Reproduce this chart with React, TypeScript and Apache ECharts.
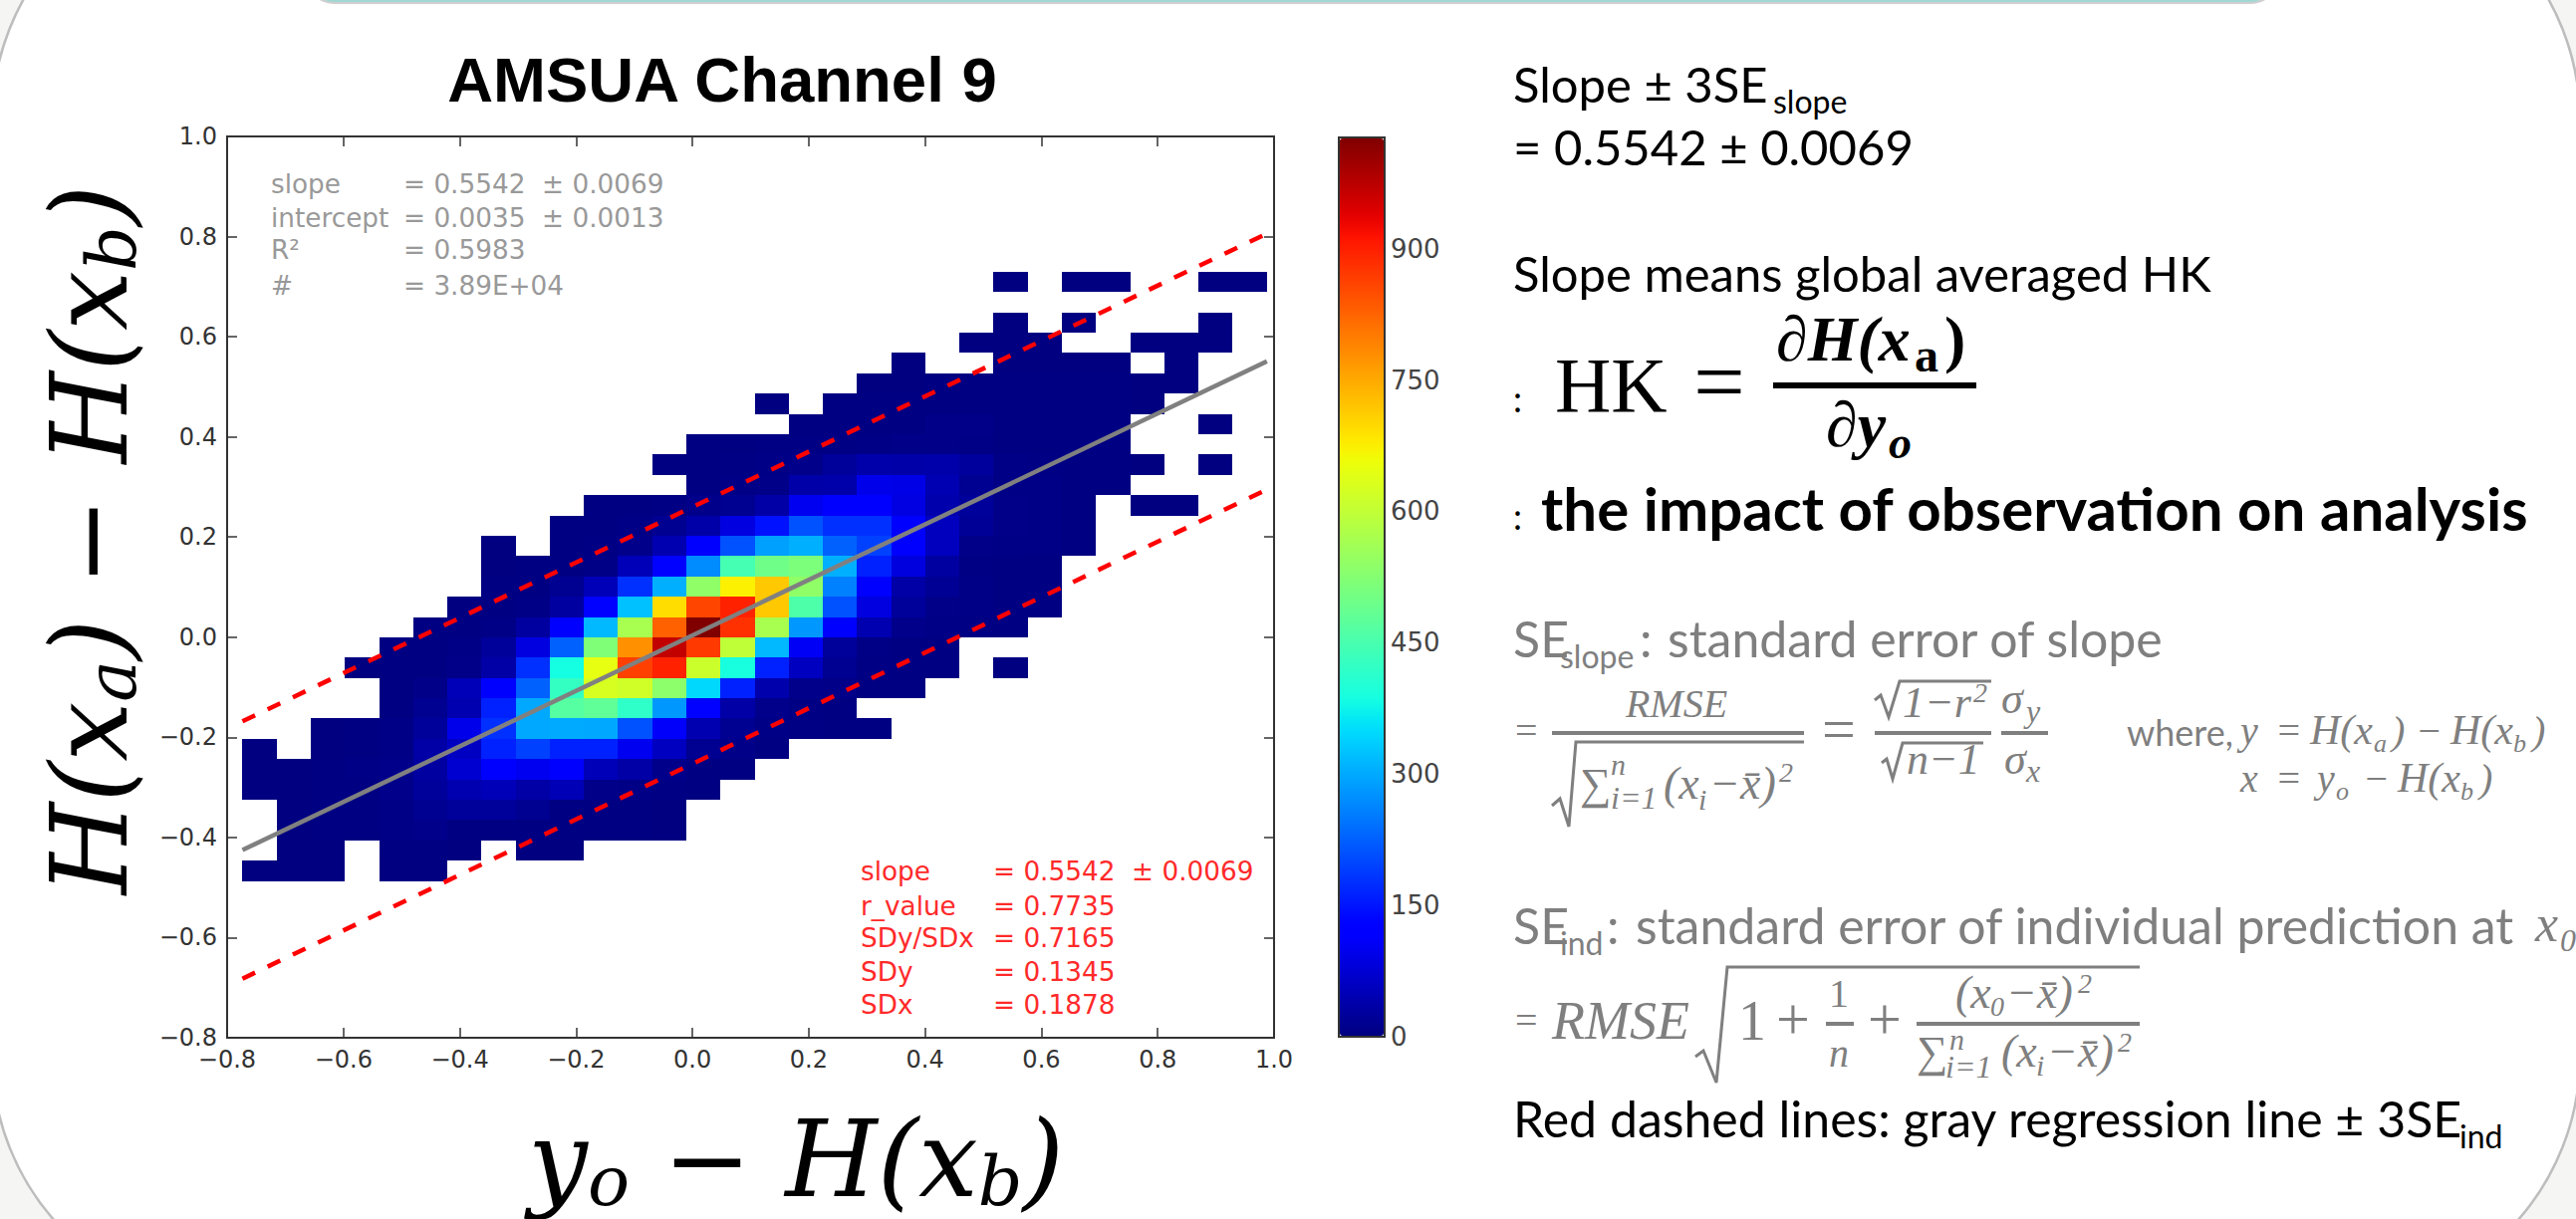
import React, { useEffect, useRef } from "react";
import * as echarts from "echarts";

// ---------- data ----------
const xBinStart = -0.7736;
const xBinSize = 0.0587;
const yBinTop = 0.73;
const yBinSize = 0.04057;
const colorMax = 1027;

// counts per bin, rows from the top of the plot to the bottom, 30 columns left to right, 0 = empty
const r00 = [0,0,0,0,0,0,0,0,0,0, 0,0,0,0,0,0,0,0,0,0, 0,0,1,0,1,1,0,0,1,1];
const r01 = [0,0,0,0,0,0,0,0,0,0, 0,0,0,0,0,0,0,0,0,0, 0,0,0,0,0,0,0,0,0,0];
const r02 = [0,0,0,0,0,0,0,0,0,0, 0,0,0,0,0,0,0,0,0,0, 0,0,1,0,1,0,0,0,1,0];
const r03 = [0,0,0,0,0,0,0,0,0,0, 0,0,0,0,0,0,0,0,0,0, 0,1,1,1,0,0,1,1,1,0];
const r04 = [0,0,0,0,0,0,0,0,0,0, 0,0,0,0,0,0,0,0,0,1, 0,0,1,1,1,1,0,1,0,0];
const r05 = [0,0,0,0,0,0,0,0,0,0, 0,0,0,0,0,0,0,0,1,1, 2,2,2,2,2,2,1,1,0,0];
const r06 = [0,0,0,0,0,0,0,0,0,0, 0,0,0,0,0,1,0,2,2,2, 2,3,3,3,3,2,1,0,0,0];
const r07 = [0,0,0,0,0,0,0,0,0,0, 0,0,0,0,0,0,2,3,3,3, 8,8,3,3,3,2,0,0,1,0];
const r08 = [0,0,0,0,0,0,0,0,0,0, 0,0,0,2,3,4,4,4,5,8, 8,5,3,3,3,2,0,0,0,0];
const r09 = [0,0,0,0,0,0,0,0,0,0, 0,0,2,3,4,6,10,24,38,36, 38,26,5,4,3,3,1,0,1,0];
const r10 = [0,0,0,0,0,0,0,0,0,0, 0,0,0,3,6,8,36,38,95,92, 45,15,6,5,3,2,0,0,0,0];
const r11 = [0,0,0,0,0,0,0,0,0,0, 2,3,4,10,15,34,100,113,113,88, 40,24,8,6,3,0,1,1,0,0];
const r12 = [0,0,0,0,0,0,0,0,0,2, 3,5,15,36,86,145,210,177,177,113, 55,20,8,6,3,0,0,0,0,0];
const r13 = [0,0,0,0,0,0,0,1,0,2, 4,10,43,113,210,290,306,226,194,113, 55,8,6,5,2,0,0,0,0,0];
const r14 = [0,0,0,0,0,0,0,1,2,3, 5,50,129,270,445,497,515,306,161,85, 29,4,3,2,0,0,0,0,0,0];
const r15 = [0,0,0,0,0,0,0,2,3,15, 50,177,306,539,673,717,539,258,113,34, 18,5,3,2,0,0,0,0,0,0];
const r16 = [0,0,0,0,0,0,1,3,5,29, 129,323,694,860,899,717,457,210,86,24, 8,5,3,2,0,0,0,0,0,0];
const r17 = [0,0,0,0,0,2,3,5,29,113, 315,569,830,1027,882,569,282,113,43,10, 5,4,2,0,0,0,0,0,0,0];
const r18 = [0,0,0,0,2,3,5,24,86,226, 519,778,968,873,598,315,105,24,5,3, 2,0,0,0,0,0,0,0,0,0];
const r19 = [0,0,0,1,2,3,8,34,177,385, 648,865,899,613,389,161,57,15,4,3, 2,0,1,0,0,0,0,0,0,0];
const r20 = [0,0,0,0,2,8,50,113,226,425, 628,618,534,347,161,40,10,8,3,2, 0,0,0,0,0,0,0,0,0,0];
const r21 = [0,0,0,0,2,15,43,161,298,465, 479,419,282,129,34,10,4,2,0,0, 0,0,0,0,0,0,0,0,0,0];
const r22 = [0,0,1,2,5,24,95,177,298,300, 298,210,110,43,15,5,4,3,2,0, 0,0,0,0,0,0,0,0,0,0];
const r23 = [1,0,1,2,5,34,60,161,194,161, 161,100,57,15,8,2,0,0,0,0, 0,0,0,0,0,0,0,0,0,0];
const r24 = [1,1,2,5,10,29,71,113,100,113, 50,34,10,3,2,0,0,0,0,0, 0,0,0,0,0,0,0,0,0,0];
const r25 = [1,1,2,2,10,24,43,50,34,48, 8,5,4,2,0,0,0,0,0,0, 0,0,0,0,0,0,0,0,0,0];
const r26 = [0,1,2,2,5,15,24,24,15,3, 3,2,1,0,0,0,0,0,0,0, 0,0,0,0,0,0,0,0,0,0];
const r27 = [0,1,2,2,5,10,3,3,3,2, 2,2,1,0,0,0,0,0,0,0, 0,0,0,0,0,0,0,0,0,0];
const r28 = [0,1,1,0,2,2,1,0,1,1, 0,0,0,0,0,0,0,0,0,0, 0,0,0,0,0,0,0,0,0,0];
const r29 = [1,1,1,0,1,1,0,0,0,0, 0,0,0,0,0,0,0,0,0,0, 0,0,0,0,0,0,0,0,0,0];
const histogramRows = [r00,r01,r02,r03,r04,r05,r06,r07,r08,r09,r10,r11,r12,r13,r14,r15,r16,r17,r18,r19,r20,r21,r22,r23,r24,r25,r26,r27,r28,r29];

const lineX = [-0.7736, 0.9877];
const regressionY = [-0.4252, 0.5509];
const upperY = [-0.168, 0.806];
const lowerY = [-0.682, 0.295];

const statsGray = [
  ["slope", "= 0.5542  \u00B1 0.0069"],
  ["intercept", "= 0.0035  \u00B1 0.0013"],
  ["R\u00B2", "= 0.5983"],
  ["#", "= 3.89E+04"],
];
const statsRed = [
  ["slope", "= 0.5542  \u00B1 0.0069"],
  ["r_value", "= 0.7735"],
  ["SDy/SDx", "= 0.7165"],
  ["SDy", "= 0.1345"],
  ["SDx", "= 0.1878"],
];

// ---------- jet colour map ----------
const ramp = (pts: number[][], t: number) => {
  for (let i = 1; i < pts.length; i++) {
    if (t <= pts[i][0]) {
      const [a, va] = pts[i - 1];
      const [b, vb] = pts[i];
      return va + ((t - a) / (b - a)) * (vb - va);
    }
  }
  return pts[pts.length - 1][1];
};
const jet = (t: number) => {
  const r = ramp([[0,0],[0.35,0],[0.66,1],[0.89,1],[1,0.5]], t);
  const g = ramp([[0,0],[0.125,0],[0.375,1],[0.64,1],[0.91,0],[1,0]], t);
  const b = ramp([[0,0.5],[0.11,1],[0.34,1],[0.65,0],[1,0]], t);
  return `rgb(${Math.round(r*255)},${Math.round(g*255)},${Math.round(b*255)})`;
};
const jetStops = Array.from({ length: 65 }, (_, i) => jet(i / 64));

// ---------- helpers for free text ----------
const SANS = "Lato";
const SERIF = "Liberation Serif";
const BIGSERIF = "DejaVu Serif";
const MPL = "DejaVu Sans";
const GRAYTXT = "#7f7f7f";

const T = (x: number, base: number, text: string, size: number, o: any = {}) => ({
  type: "text",
  x,
  y: base - size * 0.33,
  z: 10,
  silent: true,
  style: {
    text,
    fontSize: size,
    fontFamily: o.family || SANS,
    fontWeight: o.weight || "normal",
    fontStyle: o.italic ? "italic" : "normal",
    fill: o.color || "#000",
    align: o.align || "left",
    verticalAlign: "middle",
  },
});
const I = (x: number, base: number, text: string, size: number, o: any = {}) =>
  T(x, base, text, size, { family: SERIF, italic: true, color: GRAYTXT, ...o });
const G = (x: number, base: number, text: string, size: number, o: any = {}) =>
  T(x, base, text, size, { family: SERIF, color: GRAYTXT, ...o });
const bar = (x1: number, x2: number, y: number, w = 4, color = GRAYTXT) => ({
  type: "line",
  z: 10,
  silent: true,
  shape: { x1, y1: y, x2, y2: y },
  style: { stroke: color, lineWidth: w },
});
const root = (pts: number[][], w = 3) => ({
  type: "polyline",
  z: 10,
  silent: true,
  shape: { points: pts },
  style: { stroke: GRAYTXT, lineWidth: w, fill: "none" },
});

const bigMath = (text: string, rich: any, x: number, y: number, rotation = 0) => ({
  type: "text",
  x,
  y,
  rotation,
  z: 10,
  silent: true,
  style: { text, rich, fill: "#000", align: "center", verticalAlign: "middle" },
});

const mathRich = {
  m: { fontFamily: BIGSERIF, fontStyle: "italic", fontSize: 106, lineHeight: 114, fill: "#000", verticalAlign: "middle" },
  n: { fontFamily: BIGSERIF, fontSize: 106, lineHeight: 114, fill: "#000", verticalAlign: "middle" },
  s: { fontFamily: BIGSERIF, fontStyle: "italic", fontSize: 70, lineHeight: 70, fill: "#000", verticalAlign: "bottom" },
};

function buildGraphics() {
  const el: any[] = [];
  // slide background
  el.push({
    type: "rect", z: -5, silent: true,
    shape: { x: -8, y: -129, width: 2598, height: 1439, r: 250 },
    style: { fill: "#ffffff", stroke: "#bdbdbd", lineWidth: 2.5 },
  });
  el.push({
    type: "rect", z: -4, silent: true,
    shape: { x: 305, y: -60, width: 1985, height: 63, r: 40 },
    style: { fill: "#9fd8d3", stroke: "#cfcfcf", lineWidth: 2 },
  });
  // chart title and axis names
  el.push(T(725, 101, "AMSUA Channel 9", 63.5, { family: "Liberation Sans", weight: "bold", align: "center" }));
  el.push(bigMath("{m|y}{s|o}{n| \u2212 }{m|H(x}{s|b}{m|)}", mathRich, 799, 1164));
  el.push(bigMath("{m|H(x}{s|a}{m|)}{n| \u2212 }{m|H(x}{s|b}{m|)}", mathRich, 90, 542, Math.PI / 2));

  // stats inside the plot
  const grayBase = [194, 228, 260, 296];
  statsGray.forEach((row, i) => {
    el.push(T(272, grayBase[i], row[0], 26.3, { family: MPL, color: "#999999" }));
    el.push(T(405, grayBase[i], row[1], 26.3, { family: MPL, color: "#999999" }));
  });
  const redBase = [884, 919, 951, 985, 1018];
  statsRed.forEach((row, i) => {
    el.push(T(864, redBase[i], row[0], 26.3, { family: MPL, color: "#ff2a2a" }));
    el.push(T(997, redBase[i], row[1], 26.3, { family: MPL, color: "#ff2a2a" }));
  });

  // right hand notes
  el.push(T(1519, 100, "Slope \u00B1 3SE", 49));
  el.push(T(1780, 112, "slope", 32));
  el.push(T(1519, 163, "= 0.5542 \u00B1 0.0069", 49));
  el.push(T(1519, 290, "Slope means global averaged HK", 49));
  el.push(T(1519, 412, ":", 36));
  el.push(T(1561, 412, "HK", 78, { family: SERIF }));
  el.push(T(1700, 413, "=", 92, { family: SERIF }));
  el.push(bar(1780, 1984, 387, 6, "#000"));
  el.push(T(1783, 362, "\u2202H(x", 64, { family: SERIF, weight: "bold", italic: true }));
  el.push(T(1922, 372, "a", 48, { family: SERIF, weight: "bold" }));
  el.push(T(1952, 362, ")", 64, { family: SERIF, weight: "bold" }));
  el.push(T(1833, 448, "\u2202y", 64, { family: SERIF, weight: "bold", italic: true }));
  el.push(T(1896, 460, "o", 46, { family: SERIF, weight: "bold", italic: true }));
  el.push(T(1519, 530, ":", 36));
  el.push(T(1547, 530, "the impact of observation on analysis", 60, { weight: "bold" }));

  el.push(T(1519, 657, "SE", 50, { color: GRAYTXT }));
  el.push(T(1566, 669, "slope", 32, { color: GRAYTXT }));
  el.push(T(1646, 657, ":", 50, { color: GRAYTXT }));
  el.push(T(1674, 657, "standard error of slope", 50, { color: GRAYTXT }));

  // slope standard error formula
  el.push(G(1521, 747, "=", 40));
  el.push(bar(1558, 1811, 736));
  el.push(I(1683, 720, "RMSE", 40, { align: "center" }));
  el.push(root([[1558, 809], [1566, 802], [1575, 830], [1582, 745], [1811, 745]]));
  el.push(I(1586, 802, "\u2211", 44));
  el.push(I(1617, 777, "n", 30));
  el.push(I(1617, 812, "i=1", 32));
  el.push(I(1670, 802, "(x", 46));
  el.push(I(1705, 812, "i", 30));
  el.push(I(1716, 802, "\u2212x\u0304)", 46));
  el.push(I(1786, 785, "2", 28));
  el.push(G(1829, 752, "=", 60));
  el.push(bar(1882, 1999, 736));
  el.push(root([[1882, 703], [1888, 698], [1896, 720], [1907, 684], [1999, 684]]));
  el.push(I(1910, 720, "1\u2212r", 44));
  el.push(I(1981, 705, "2", 28));
  el.push(bar(2009, 2056, 736));
  el.push(root([[1889, 766], [1894, 762], [1900, 782], [1910, 746], [1991, 746]]));
  el.push(I(1914, 777, "n\u22121", 44));
  el.push(I(2009, 716, "\u03C3", 44));
  el.push(I(2034, 725, "y", 32));
  el.push(I(2012, 777, "\u03C3", 44));
  el.push(I(2034, 785, "x", 32));

  // definitions of x and y
  el.push(T(2135, 747, "where,", 36, { color: GRAYTXT }));
  el.push(I(2249, 747, "y", 40));
  el.push(I(2284, 747, "=", 40));
  el.push(I(2319, 747, "H(x", 42));
  el.push(I(2383, 755, "a", 26));
  el.push(I(2401, 747, ")", 40));
  el.push(I(2425, 747, "\u2212", 40));
  el.push(I(2460, 747, "H(x", 42));
  el.push(I(2523, 755, "b", 26));
  el.push(I(2542, 747, ")", 40));
  el.push(I(2249, 795, "x", 40));
  el.push(I(2284, 795, "=", 40));
  el.push(I(2326, 795, "y", 40));
  el.push(I(2345, 803, "o", 26));
  el.push(I(2372, 795, "\u2212", 40));
  el.push(I(2407, 795, "H(x", 42));
  el.push(I(2470, 803, "b", 26));
  el.push(I(2489, 795, ")", 40));

  el.push(T(1519, 945, "SE", 50, { color: GRAYTXT }));
  el.push(T(1566, 957, "ind", 32, { color: GRAYTXT }));
  el.push(T(1613, 945, ":", 50, { color: GRAYTXT }));
  el.push(T(1642, 945, "standard error of individual prediction at", 50, { color: GRAYTXT }));
  el.push(I(2545, 945, "x", 52));
  el.push(I(2570, 955, "0", 32));

  // individual prediction formula
  el.push(G(1521, 1038, "=", 40));
  el.push(I(1558, 1043, "RMSE", 54));
  el.push(root([[1702, 1061], [1710, 1055], [1723, 1087], [1734, 971], [2148, 971]]));
  el.push(G(1745, 1043, "1", 56));
  el.push(G(1783, 1043, "+", 60));
  el.push(bar(1833, 1861, 1028));
  el.push(G(1846, 1011, "1", 40, { align: "center" }));
  el.push(I(1846, 1071, "n", 40, { align: "center" }));
  el.push(G(1875, 1043, "+", 60));
  el.push(bar(1924, 2148, 1028));
  el.push(I(1963, 1012, "(x", 46));
  el.push(I(1998, 1020, "0", 28));
  el.push(I(2014, 1012, "\u2212x\u0304)", 46));
  el.push(I(2086, 997, "2", 28));
  el.push(I(1924, 1071, "\u2211", 44));
  el.push(I(1957, 1053, "n", 30));
  el.push(I(1953, 1082, "i=1", 32));
  el.push(I(2009, 1071, "(x", 46));
  el.push(I(2044, 1079, "i", 30));
  el.push(I(2055, 1071, "\u2212x\u0304)", 46));
  el.push(I(2126, 1056, "2", 28));

  el.push(T(1519, 1139, "Red dashed lines: gray regression line \u00B1 3SE", 50));
  el.push(T(2469, 1151, "ind", 32));
  return el;
}

const cellData = histogramRows.flatMap((row, r) =>
  row.flatMap((count, c) =>
    count > 0 ? [[xBinStart + c * xBinSize, yBinTop - r * yBinSize, count]] : []
  )
);

const plotTick = (v: number) => v.toFixed(1).replace("-", "\u2212");
const axisBase = {
  type: "value",
  min: -0.8,
  max: 1.0,
  interval: 0.2,
  splitLine: { show: false },
  axisLine: { show: false, onZero: false },
  axisTick: { show: true, inside: true, length: 10, lineStyle: { color: "#333", width: 1.5 } },
};
const plotLabel = { fontFamily: MPL, fontSize: 24, color: "#333", formatter: plotTick };

export default function App() {
  const ref = useRef<HTMLDivElement>(null);
  useEffect(() => {
    const chart = echarts.init(ref.current!, undefined, { renderer: "svg" });
    chart.setOption({
      animation: false,
      backgroundColor: "#f5f5f3",
      grid: [
        { left: 228, top: 137, width: 1051, height: 905, show: true, borderColor: "#333", borderWidth: 2, backgroundColor: "transparent" },
        { left: 1344, top: 138, width: 46, height: 903, show: true, borderColor: "#333", borderWidth: 2, backgroundColor: "transparent" },
      ],
      xAxis: [
        { ...axisBase, gridIndex: 0, position: "bottom", axisLabel: { ...plotLabel, margin: 10 } },
        { ...axisBase, gridIndex: 0, position: "top", axisLabel: { show: false } },
        { type: "value", gridIndex: 1, min: 0, max: 1, show: false },
      ],
      yAxis: [
        { ...axisBase, gridIndex: 0, position: "left", axisLabel: { ...plotLabel, margin: 10 } },
        { ...axisBase, gridIndex: 0, position: "right", axisLabel: { show: false } },
        {
          type: "value",
          gridIndex: 1,
          position: "right",
          min: 0,
          max: colorMax,
          interval: 150,
          splitLine: { show: false },
          axisLine: { show: false, onZero: false },
          axisTick: { show: true, inside: true, length: 10, lineStyle: { color: "#333", width: 1.5 } },
          axisLabel: { fontFamily: MPL, fontSize: 26, color: "#444", margin: 6, showMaxLabel: false },
        },
      ],
      visualMap: {
        type: "continuous",
        min: 0,
        max: colorMax,
        dimension: 2,
        seriesIndex: [0],
        left: 1345,
        top: 139,
        itemWidth: 44,
        itemHeight: 901,
        padding: 0,
        calculable: false,
        hoverLink: false,
        inRange: { color: jetStops },
      },
      graphic: { elements: buildGraphics() },
      series: [
        {
          type: "custom",
          xAxisIndex: 0,
          yAxisIndex: 0,
          silent: true,
          z: 2,
          encode: { x: 0, y: 1 },
          data: cellData,
          renderItem: (_: any, api: any) => {
            const x0 = api.value(0);
            const yTop = api.value(1);
            const a = api.coord([x0, yTop]);
            const b = api.coord([x0 + xBinSize, yTop - yBinSize]);
            const left = Math.round(a[0]);
            const top = Math.round(a[1]);
            return {
              type: "rect",
              shape: { x: left, y: top, width: Math.round(b[0]) - left, height: Math.round(b[1]) - top },
              style: { fill: api.visual("color") },
            };
          },
        },
        {
          type: "line", xAxisIndex: 0, yAxisIndex: 0, silent: true, z: 5, symbol: "none",
          data: lineX.map((x, i) => [x, regressionY[i]]),
          lineStyle: { color: "#808080", width: 4.5 },
        },
        {
          type: "line", xAxisIndex: 0, yAxisIndex: 0, silent: true, z: 5, symbol: "none",
          data: lineX.map((x, i) => [x, upperY[i]]),
          lineStyle: { color: "#ff0000", width: 4.5, type: [14, 14] },
        },
        {
          type: "line", xAxisIndex: 0, yAxisIndex: 0, silent: true, z: 5, symbol: "none",
          data: lineX.map((x, i) => [x, lowerY[i]]),
          lineStyle: { color: "#ff0000", width: 4.5, type: [14, 14] },
        },
      ],
    });
    return () => chart.dispose();
  }, []);
  return <div ref={ref} style={{ position: "fixed", left: 0, top: 0, width: 2586, height: 1224 }} />;
}
